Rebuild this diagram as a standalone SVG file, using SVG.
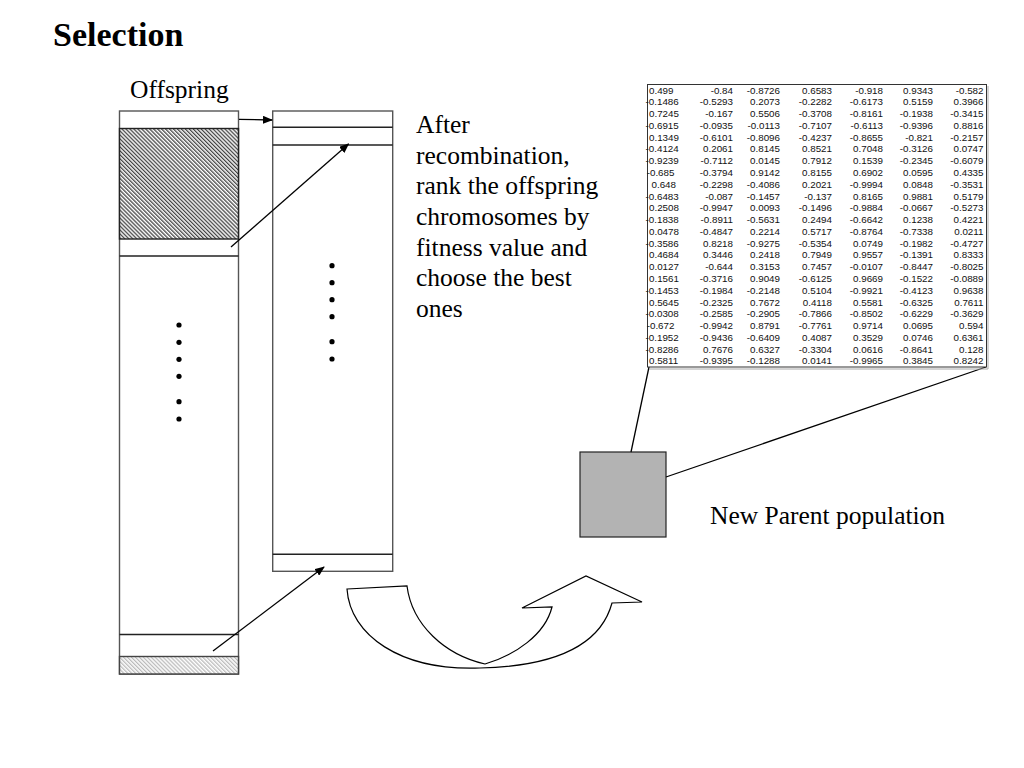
<svg xmlns="http://www.w3.org/2000/svg" width="1024" height="768" viewBox="0 0 1024 768">
<defs>
<style>
.serif{font-family:"Liberation Serif","Times New Roman",serif;fill:#000}
.title{font-size:34px;font-weight:bold}
.lbl{font-size:25.5px}
.tb{font-family:"Liberation Sans",Arial,sans-serif;font-size:9.8px;fill:#111}
.te{text-anchor:end}
.box{fill:#fff;stroke:#555;stroke-width:1.4}
.row{stroke:#222;stroke-width:1.4;fill:none}
.conn{stroke:#000;stroke-width:1.3;fill:none}
.dot{fill:#000}
</style>
<pattern id="hatchDark" patternUnits="userSpaceOnUse" width="2.8" height="2.8" patternTransform="rotate(-45)">
<rect width="2.8" height="2.8" fill="#fff"/>
<rect width="1.3" height="2.8" fill="#444"/>
</pattern>
<pattern id="hatchLight" patternUnits="userSpaceOnUse" width="2.8" height="2.8" patternTransform="rotate(-45)">
<rect width="2.8" height="2.8" fill="#fff"/>
<rect width="1.3" height="2.8" fill="#bbb"/>
</pattern>
<marker id="ah" markerWidth="10" markerHeight="8" refX="9" refY="4" orient="auto" markerUnits="userSpaceOnUse">
<path d="M0,0 L10,4 L0,8 Z" fill="#000"/>
</marker>
</defs>
<rect width="1024" height="768" fill="#fff"/>

<text class="serif title" x="53" y="46">Selection</text>

<g id="offspring">
<text class="serif lbl" x="130" y="98">Offspring</text>
<rect class="box" x="119.5" y="111" width="119" height="563"/>
<rect x="119.5" y="128.5" width="119" height="110.5" fill="url(#hatchDark)" stroke="#222" stroke-width="1.4"/>
<line class="row" x1="119.5" y1="256" x2="238.5" y2="256"/>
<line class="row" x1="119.5" y1="634.5" x2="238.5" y2="634.5"/>
<rect x="119.5" y="656.5" width="119" height="17.5" fill="url(#hatchLight)" stroke="#444" stroke-width="1.4"/>
<circle class="dot" cx="179" cy="325" r="2.6"/>
<circle class="dot" cx="179" cy="342.3" r="2.6"/>
<circle class="dot" cx="179" cy="359.3" r="2.6"/>
<circle class="dot" cx="179" cy="376.3" r="2.6"/>
<circle class="dot" cx="179" cy="401.7" r="2.6"/>
<circle class="dot" cx="179" cy="419" r="2.6"/>
</g>

<g id="ranked">
<rect class="box" x="272.7" y="111" width="120" height="460.3" stroke="#222"/>
<line class="row" x1="272.7" y1="127.3" x2="392.7" y2="127.3"/>
<line class="row" x1="272.7" y1="145" x2="392.7" y2="145"/>
<line class="row" x1="272.7" y1="554.3" x2="392.7" y2="554.3"/>
<circle class="dot" cx="332" cy="265.7" r="2.6"/>
<circle class="dot" cx="332" cy="282.7" r="2.6"/>
<circle class="dot" cx="332" cy="299.7" r="2.6"/>
<circle class="dot" cx="332" cy="316.7" r="2.6"/>
<circle class="dot" cx="332" cy="341.7" r="2.6"/>
<circle class="dot" cx="332" cy="359" r="2.6"/>
</g>

<g id="description">
<text class="serif lbl" x="416">
<tspan x="416" y="133">After</tspan>
<tspan x="416" y="164">recombination,</tspan>
<tspan x="416" y="194">rank the offspring</tspan>
<tspan x="416" y="225">chromosomes by</tspan>
<tspan x="416" y="256">fitness value and</tspan>
<tspan x="416" y="286">choose the best</tspan>
<tspan x="416" y="317">ones</tspan>
</text>
</g>

<g id="curved-arrow">
<path d="M347,589 L407,586 C412,625 445,655 485,664 C515,655 545,635 552,607 L522,608 L586,576 L642,602 L612,603 C602,640 565,666 480,668 C400,671 350,635 347,589 Z" fill="#fff" stroke="#000" stroke-width="1.2" stroke-linejoin="miter"/>
</g>

<g id="new-parent">
<rect x="580" y="452" width="86" height="85" fill="#b3b3b3" stroke="#222" stroke-width="1.2"/>
<text class="serif lbl" x="710" y="524">New Parent population</text>
</g>

<g id="connectors">
<line class="conn" x1="239" y1="119.3" x2="272" y2="120" marker-end="url(#ah)"/>
<line class="conn" x1="231" y1="247" x2="348.5" y2="144" marker-end="url(#ah)"/>
<line class="conn" x1="213" y1="651" x2="324" y2="567" marker-end="url(#ah)"/>
<line class="conn" x1="631" y1="452" x2="649" y2="367"/>
<line class="conn" x1="666" y1="477" x2="986" y2="367"/>
</g>

<g id="population-table">
<polyline points="988,86 988,369 649,369" fill="none" stroke="#aaa" stroke-width="1"/>
<rect x="647.5" y="84.5" width="339" height="282.5" fill="#fff" stroke="#333" stroke-width="1"/>
<g class="tb">
<text x="649" y="93.5">0.499</text><text class="te" y="93.5"><tspan x="733">-0.84</tspan><tspan x="780">-0.8726</tspan><tspan x="832">0.6583</tspan><tspan x="883">-0.918</tspan><tspan x="933">0.9343</tspan><tspan x="983.5">-0.582</tspan></text>
<text x="645.5" y="105.3">-0.1486</text><text class="te" y="105.3"><tspan x="733">-0.5293</tspan><tspan x="780">0.2073</tspan><tspan x="832">-0.2282</tspan><tspan x="883">-0.6173</tspan><tspan x="933">0.5159</tspan><tspan x="983.5">0.3966</tspan></text>
<text x="649" y="117.1">0.7245</text><text class="te" y="117.1"><tspan x="733">-0.167</tspan><tspan x="780">0.5506</tspan><tspan x="832">-0.3708</tspan><tspan x="883">-0.8161</tspan><tspan x="933">-0.1938</tspan><tspan x="983.5">-0.3415</tspan></text>
<text x="645.5" y="128.8">-0.6915</text><text class="te" y="128.8"><tspan x="733">-0.0935</tspan><tspan x="780">-0.0113</tspan><tspan x="832">-0.7107</tspan><tspan x="883">-0.6113</tspan><tspan x="933">-0.9396</tspan><tspan x="983.5">0.8816</tspan></text>
<text x="649" y="140.6">0.1349</text><text class="te" y="140.6"><tspan x="733">-0.6101</tspan><tspan x="780">-0.8096</tspan><tspan x="832">-0.4237</tspan><tspan x="883">-0.8655</tspan><tspan x="933">-0.821</tspan><tspan x="983.5">-0.2157</tspan></text>
<text x="645.5" y="152.4">-0.4124</text><text class="te" y="152.4"><tspan x="733">0.2061</tspan><tspan x="780">0.8145</tspan><tspan x="832">0.8521</tspan><tspan x="883">0.7048</tspan><tspan x="933">-0.3126</tspan><tspan x="983.5">0.0747</tspan></text>
<text x="645.5" y="164.2">-0.9239</text><text class="te" y="164.2"><tspan x="733">-0.7112</tspan><tspan x="780">0.0145</tspan><tspan x="832">0.7912</tspan><tspan x="883">0.1539</tspan><tspan x="933">-0.2345</tspan><tspan x="983.5">-0.6079</tspan></text>
<text x="646.7" y="176">-0.685</text><text class="te" y="176"><tspan x="733">-0.3794</tspan><tspan x="780">0.9142</tspan><tspan x="832">0.8155</tspan><tspan x="883">0.6902</tspan><tspan x="933">0.0595</tspan><tspan x="983.5">0.4335</tspan></text>
<text x="651.5" y="187.7">0.648</text><text class="te" y="187.7"><tspan x="733">-0.2298</tspan><tspan x="780">-0.4086</tspan><tspan x="832">0.2021</tspan><tspan x="883">-0.9994</tspan><tspan x="933">0.0848</tspan><tspan x="983.5">-0.3531</tspan></text>
<text x="645.5" y="199.5">-0.6483</text><text class="te" y="199.5"><tspan x="733">-0.087</tspan><tspan x="780">-0.1457</tspan><tspan x="832">-0.137</tspan><tspan x="883">0.8165</tspan><tspan x="933">0.9881</tspan><tspan x="983.5">0.5179</tspan></text>
<text x="649" y="211.3">0.2508</text><text class="te" y="211.3"><tspan x="733">-0.9947</tspan><tspan x="780">0.0093</tspan><tspan x="832">-0.1496</tspan><tspan x="883">-0.9884</tspan><tspan x="933">-0.0667</tspan><tspan x="983.5">-0.5273</tspan></text>
<text x="645.5" y="223.1">-0.1838</text><text class="te" y="223.1"><tspan x="733">-0.8911</tspan><tspan x="780">-0.5631</tspan><tspan x="832">0.2494</tspan><tspan x="883">-0.6642</tspan><tspan x="933">0.1238</tspan><tspan x="983.5">0.4221</tspan></text>
<text x="649" y="234.9">0.0478</text><text class="te" y="234.9"><tspan x="733">-0.4847</tspan><tspan x="780">0.2214</tspan><tspan x="832">0.5717</tspan><tspan x="883">-0.8764</tspan><tspan x="933">-0.7338</tspan><tspan x="983.5">0.0211</tspan></text>
<text x="645.5" y="246.6">-0.3586</text><text class="te" y="246.6"><tspan x="733">0.8218</tspan><tspan x="780">-0.9275</tspan><tspan x="832">-0.5354</tspan><tspan x="883">0.0749</tspan><tspan x="933">-0.1982</tspan><tspan x="983.5">-0.4727</tspan></text>
<text x="649" y="258.4">0.4684</text><text class="te" y="258.4"><tspan x="733">0.3446</tspan><tspan x="780">0.2418</tspan><tspan x="832">0.7949</tspan><tspan x="883">0.9557</tspan><tspan x="933">-0.1391</tspan><tspan x="983.5">0.8333</tspan></text>
<text x="649" y="270.2">0.0127</text><text class="te" y="270.2"><tspan x="733">-0.644</tspan><tspan x="780">0.3153</tspan><tspan x="832">0.7457</tspan><tspan x="883">-0.0107</tspan><tspan x="933">-0.8447</tspan><tspan x="983.5">-0.8025</tspan></text>
<text x="649" y="282">0.1561</text><text class="te" y="282"><tspan x="733">-0.3716</tspan><tspan x="780">0.9049</tspan><tspan x="832">-0.6125</tspan><tspan x="883">0.9669</tspan><tspan x="933">-0.1522</tspan><tspan x="983.5">-0.0889</tspan></text>
<text x="645.5" y="293.8">-0.1453</text><text class="te" y="293.8"><tspan x="733">-0.1984</tspan><tspan x="780">-0.2148</tspan><tspan x="832">0.5104</tspan><tspan x="883">-0.9921</tspan><tspan x="933">-0.4123</tspan><tspan x="983.5">0.9638</tspan></text>
<text x="649" y="305.5">0.5645</text><text class="te" y="305.5"><tspan x="733">-0.2325</tspan><tspan x="780">0.7672</tspan><tspan x="832">0.4118</tspan><tspan x="883">0.5581</tspan><tspan x="933">-0.6325</tspan><tspan x="983.5">0.7611</tspan></text>
<text x="645.5" y="317.3">-0.0308</text><text class="te" y="317.3"><tspan x="733">-0.2585</tspan><tspan x="780">-0.2905</tspan><tspan x="832">-0.7866</tspan><tspan x="883">-0.8502</tspan><tspan x="933">-0.6229</tspan><tspan x="983.5">-0.3629</tspan></text>
<text x="646.7" y="329.1">-0.672</text><text class="te" y="329.1"><tspan x="733">-0.9942</tspan><tspan x="780">0.8791</tspan><tspan x="832">-0.7761</tspan><tspan x="883">0.9714</tspan><tspan x="933">0.0695</tspan><tspan x="983.5">0.594</tspan></text>
<text x="645.5" y="340.9">-0.1952</text><text class="te" y="340.9"><tspan x="733">-0.9436</tspan><tspan x="780">-0.6409</tspan><tspan x="832">0.4087</tspan><tspan x="883">0.3529</tspan><tspan x="933">0.0746</tspan><tspan x="983.5">0.6361</tspan></text>
<text x="645.5" y="352.7">-0.8286</text><text class="te" y="352.7"><tspan x="733">0.7676</tspan><tspan x="780">0.6327</tspan><tspan x="832">-0.3304</tspan><tspan x="883">0.0616</tspan><tspan x="933">-0.8641</tspan><tspan x="983.5">0.128</tspan></text>
<text x="649" y="364.4">0.5811</text><text class="te" y="364.4"><tspan x="733">-0.9395</tspan><tspan x="780">-0.1288</tspan><tspan x="832">0.0141</tspan><tspan x="883">-0.9965</tspan><tspan x="933">0.3845</tspan><tspan x="983.5">0.8242</tspan></text>
</g>
</g>
</svg>
